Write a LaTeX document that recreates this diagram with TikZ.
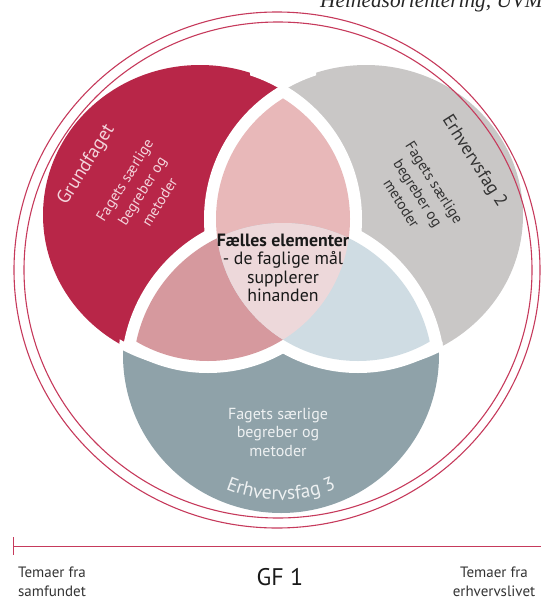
\documentclass[tikz,border=0pt]{standalone}
\usepackage{fontspec}
\setmainfont{PT Sans}
\newfontfamily\serifit{Liberation Serif}
\usetikzlibrary{decorations.text,calc}
\definecolor{crim}{HTML}{B82648}
\definecolor{greyb}{HTML}{C9C7C6}
\definecolor{slate}{HTML}{8FA2A9}
\definecolor{lobeAB}{HTML}{E8B8B9}
\definecolor{lobeAC}{HTML}{D6999E}
\definecolor{lobeBC}{HTML}{CFDCE3}
\definecolor{lobeABC}{HTML}{EDD8DA}
\definecolor{ring}{HTML}{C63A5C}
\definecolor{pinktext}{HTML}{F3D3DB}
\definecolor{darktext}{HTML}{333333}
\definecolor{lighttext}{HTML}{EEF1F2}
\begin{document}
\begin{tikzpicture}[x=1pt,y=1pt,
  ringline/.style={draw=ring,line width=1.1pt},
  gapline/.style={draw=white,line width=8pt},
  pinklbl/.style={text=pinktext,inner sep=0pt},
  darklbl/.style={text=darktext,inner sep=0pt},
  lightlbl/.style={text=lighttext,inner sep=0pt},
  blacklbl/.style={text=black!90,inner sep=0pt}]
\useasboundingbox (0,0) rectangle (541,-597);
% big regions
\fill[slate] (281,-355) circle[radius=158];
\fill[crim] (200,-215) ellipse[x radius=157, y radius=150];
\begin{scope}
  \clip (281,-355) circle[radius=162];
  \draw[gapline] (200,-215) ellipse[x radius=157, y radius=150];
\end{scope}
\fill[greyb] (366,-215) ellipse[x radius=157, y radius=150];
\begin{scope}
  \clip (281,-355) circle[radius=162];
  \draw[gapline] (366,-215) ellipse[x radius=157, y radius=150];
\end{scope}
\begin{scope}
  \clip (250,-40) rectangle (316,-100);
  \draw[draw=white,line width=5pt] (200,-215) ellipse[x radius=157, y radius=150];
  \draw[draw=white,line width=5pt] (366,-215) ellipse[x radius=157, y radius=150];
\end{scope}
% white gap around the flower
\begin{scope}
  \clip (208,-219) circle[radius=154];
  \fill[white] (358,-219) circle[radius=154];
  \fill[white] (283,-373) circle[radius=162];
\end{scope}
\begin{scope}
  \clip (358,-219) circle[radius=154];
  \fill[white] (283,-373) circle[radius=162];
\end{scope}
% lobes
\begin{scope}
  \clip (208,-219) circle[radius=142];
  \fill[lobeAB] (358,-219) circle[radius=142];
  \fill[lobeAC] (283,-373) circle[radius=150];
\end{scope}
\begin{scope}
  \clip (358,-219) circle[radius=142];
  \fill[lobeBC] (283,-373) circle[radius=150];
\end{scope}
\begin{scope}
  \clip (208,-219) circle[radius=142];
  \clip (358,-219) circle[radius=142];
  \fill[lobeABC] (283,-373) circle[radius=150];
\end{scope}
% outer rings
\draw[ringline] (277,-270) ellipse[x radius=263, y radius=258];
\draw[ringline] (278,-270) ellipse[x radius=254, y radius=248];
% texts
\node[pinklbl,rotate=58,font=\fontsize{19}{19}\selectfont] (grund) at (86.5,-165) {Grundfaget};
\node[pinklbl,rotate=58,align=center,font=\fontsize{15}{20.5}\selectfont] (grundtxt) at (142,-191) {Fagets særlige\\begreber og\\metoder};
\node[darklbl,rotate=-57.5,font=\fontsize{18}{18}\selectfont] (erh2) at (474,-161.5) {Erhvervsfag 2};
\node[darklbl,rotate=-57.5,align=center,font=\fontsize{15}{19.5}\selectfont] (erh2txt) at (418,-193) {Fagets særlige\\begreber og\\metoder};
\node[lightlbl,align=center,font=\fontsize{16}{18.5}\selectfont] (erh3txt) at (278,-432) {Fagets særlige\\begreber og\\metoder};
\coordinate (arcS) at ($(281,-355)+(239:145)$);
\path[decorate,decoration={text along path,text align=center,
  text={|\fontsize{19.5}{19.5}\selectfont\color{lighttext}|Erhvervsfag 3}}]
  (arcS) arc[start angle=239,end angle=301,radius=145];
\node[blacklbl,align=center,font=\fontsize{17.8}{18.3}\selectfont] (center) at (283,-268) {\textbf{Fælles elementer}\\- de faglige mål\\supplerer\\hinanden};
\node[anchor=base west,inner sep=0pt,font=\serifit\itshape\fontsize{21.3}{21.3}\selectfont,text=black!85] (title) at (320,-7) {Helhedsorientering, UVM,};
% bottom scale
\coordinate (lineL) at (13,-546);
\coordinate (lineR) at (541,-546);
\coordinate (tickT) at (13,-537);
\coordinate (tickB) at (13,-555);
\draw[ring,line width=1pt] (lineL) -- (lineR);
\draw[ring,line width=1pt] (tickT) -- (tickB);
\node[darklbl,anchor=north,align=center,font=\fontsize{15}{19}\selectfont] (left) at (52,-567) {Temaer fra\\samfundet};
\node[darklbl,anchor=base,font=\fontsize{24}{24}\selectfont,text=black!90] (gf) at (280,-585) {GF 1};
\node[darklbl,anchor=north,align=center,font=\fontsize{15}{19}\selectfont] (right) at (494,-567) {Temaer fra\\erhvervslivet};
\end{tikzpicture}
\end{document}
